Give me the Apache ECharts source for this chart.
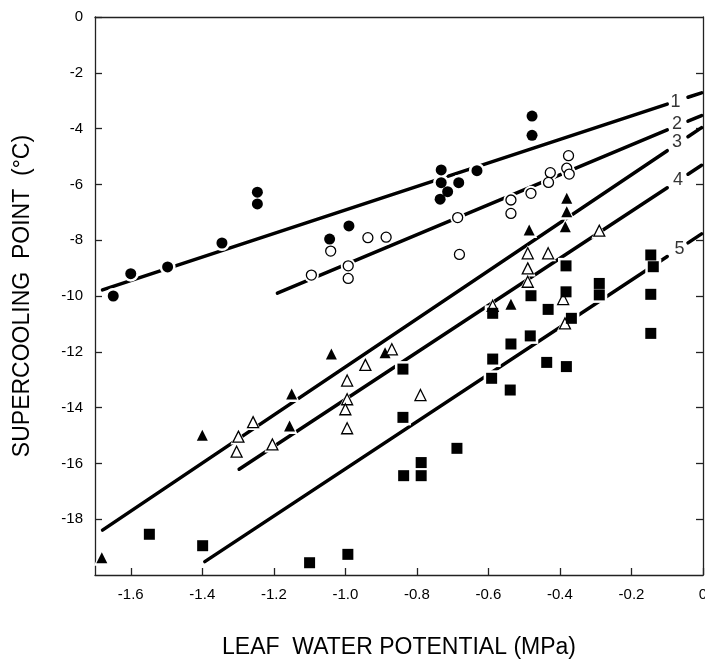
<!DOCTYPE html>
<html><head><meta charset="utf-8">
<script src="https://cdn.jsdelivr.net/npm/echarts@6/dist/echarts.min.js"></script>
<style>html,body{margin:0;padding:0;background:#fff}#c{width:705px;height:660px}</style>
</head><body><div id="c"></div>
<script>
// ---- data ----
const xTicks = [-1.6, -1.4, -1.2, -1.0, -0.8, -0.6, -0.4, -0.2, 0];
const yTicks = [0, -2, -4, -6, -8, -10, -12, -14, -16, -18];
const yTicksRight = [-2, -4, -6, -8, -10, -12, -14, -16, -18];

const filledCircles = [
  [-1.649, -10.0], [-1.600, -9.20], [-1.497, -8.96], [-1.345, -8.10],
  [-1.246, -6.28], [-1.246, -6.70], [-1.044, -7.96], [-0.990, -7.49],
  [-0.478, -3.55], [-0.478, -4.24], [-0.732, -5.48], [-0.632, -5.51],
  [-0.732, -5.94], [-0.683, -5.94], [-0.714, -6.26], [-0.735, -6.53]
];
const openCircles = [
  [-1.041, -8.39], [-1.095, -9.25], [-0.992, -8.92], [-0.992, -9.37],
  [-0.937, -7.91], [-0.886, -7.89], [-0.376, -4.97], [-0.381, -5.42],
  [-0.374, -5.63], [-0.427, -5.58], [-0.432, -5.93], [-0.481, -6.32],
  [-0.537, -6.56], [-0.537, -7.04], [-0.686, -7.19], [-0.681, -8.51]
];
const filledTriangles = [
  [-0.381, -6.50], [-0.381, -6.98], [-0.385, -7.52], [-0.486, -7.63],
  [-0.537, -10.30], [-1.039, -12.08], [-0.889, -12.03], [-1.150, -13.51],
  [-1.156, -14.66], [-1.400, -14.99], [-1.681, -19.38]
];
const openTriangles = [
  [-0.290, -7.66], [-0.490, -8.47], [-0.433, -8.47], [-0.490, -9.01],
  [-0.490, -9.49], [-0.391, -10.11], [-0.588, -10.35], [-0.386, -10.98],
  [-0.790, -13.55], [-0.870, -11.91], [-0.944, -12.47], [-0.995, -13.03],
  [-0.995, -13.70], [-1.000, -14.06], [-0.995, -14.74], [-1.258, -14.52],
  [-1.299, -15.04], [-1.304, -15.58], [-1.204, -15.32]
];
const filledSquares = [
  [-1.548, -18.54], [-1.399, -18.95], [-1.100, -19.56], [-0.993, -19.26],
  [-0.839, -12.62], [-0.839, -14.35], [-0.837, -16.44], [-0.788, -15.97],
  [-0.788, -16.44], [-0.688, -15.46], [-0.588, -10.62], [-0.588, -12.26],
  [-0.591, -12.95], [-0.537, -11.72], [-0.539, -13.37], [-0.481, -9.99],
  [-0.483, -11.43], [-0.433, -10.48], [-0.437, -12.38], [-0.383, -8.92],
  [-0.383, -9.85], [-0.368, -10.80], [-0.382, -12.53], [-0.290, -9.55],
  [-0.290, -9.96], [-0.146, -8.53], [-0.139, -8.95], [-0.146, -9.94],
  [-0.146, -11.34]
];

// regression lines: start point and value at x = 0
const lineNames  = ['1', '2', '3', '4', '5'];
const lineStartX = [-1.679, -1.190, -1.679, -1.297, -1.393];
const lineStartY = [-9.78, -9.90, -18.39, -16.21, -19.52];
const lineEndY   = [-2.70, -3.51, -3.93, -5.28, -7.74];
const labelX     = [-0.077, -0.073, -0.073, -0.070, -0.066];
const labelY     = [-3.04, -3.84, -4.47, -5.84, -8.32];

// ---- chart ----
const FONT = 'Liberation Sans';
const gapA = -0.100, gapB = -0.042;
function lineY(i, x) {
  return lineStartY[i] + (lineEndY[i] - lineStartY[i]) * (x - lineStartX[i]) / (0 - lineStartX[i]);
}
const series = [];
lineNames.forEach((n, i) => {
  const segStyle = { color: '#000', width: 3.5, cap: 'round' };
  series.push({
    type: 'line', z: 2, symbol: 'none', silent: true, animation: false,
    lineStyle: segStyle,
    data: [[lineStartX[i], lineY(i, lineStartX[i])], [gapA, lineY(i, gapA)]]
  });
  series.push({
    type: 'line', z: 2, symbol: 'none', silent: true, animation: false,
    lineStyle: segStyle,
    data: [[gapB, lineY(i, gapB)], [-0.004, lineY(i, -0.004)]]
  });
});
series.push({
  type: 'scatter', z: 5, symbolSize: 0, animation: false,
  data: labelX.map((x, i) => ({ value: [x, labelY[i]], name: lineNames[i] })),
  label: { show: true, position: 'inside', formatter: p => p.name, color: '#000',
           fontFamily: FONT, fontSize: 18 }
});
function markers(data, symbol, size, filled) {
  series.push({
    type: 'scatter', z: 3, symbol, symbolSize: size + 5, animation: false, silent: true,
    itemStyle: { color: '#fff', opacity: 1 }, data
  });
  series.push({
    type: 'scatter', z: 4, symbol, symbolSize: size, animation: false,
    itemStyle: filled ? { color: '#000', opacity: 1 }
                      : { color: '#fff', borderColor: '#000', borderWidth: 1.3, opacity: 1 },
    data
  });
}
markers(filledCircles, 'circle', 11, true);
markers(openCircles, 'circle', 10, false);
markers(filledTriangles, 'triangle', 11, true);
markers(openTriangles, 'triangle', 11, false);
markers(filledSquares, 'rect', 11, true);

const axisLine = { show: true, onZero: false, lineStyle: { color: '#222', width: 1.3 } };
const tickStyle = { color: '#222', width: 1.3 };
const lbl = { color: '#000', fontFamily: FONT, fontSize: 15 };
const option = {
  backgroundColor: '#fff',
  animation: false,
  grid: { left: 95, right: 2, top: 17, bottom: 85, containLabel: false, outerBoundsMode: 'none' },
  xAxis: [
    {
      type: 'value', min: -1.7, max: 0, position: 'bottom',
      axisLine,
      axisTick: { show: true, inside: true, length: 7, customValues: xTicks, lineStyle: tickStyle },
      axisLabel: Object.assign({ customValues: xTicks, margin: 12,
        formatter: v => (v === 0 ? '0' : v.toFixed(1)) }, lbl),
      splitLine: { show: false },
      name: 'LEAF  WATER POTENTIAL (MPa)', nameLocation: 'middle', nameGap: 61,
      nameTextStyle: { color: '#000', fontFamily: FONT, fontSize: 23 }
    },
    {
      type: 'value', min: -1.7, max: 0, position: 'top',
      axisLine, axisTick: { show: false }, axisLabel: { show: false }, splitLine: { show: false }
    }
  ],
  yAxis: [
    {
      type: 'value', min: -20, max: 0, position: 'left',
      axisLine,
      axisTick: { show: true, inside: true, length: 7, customValues: yTicks, lineStyle: tickStyle },
      axisLabel: Object.assign({ customValues: yTicks, margin: 12,
        formatter: v => String(v) }, lbl),
      splitLine: { show: false },
      name: 'SUPERCOOLING  POINT  (°C)', nameLocation: 'middle', nameGap: 61, nameRotate: 90,
      nameTextStyle: { color: '#000', fontFamily: FONT, fontSize: 23 }
    },
    {
      type: 'value', min: -20, max: 0, position: 'right',
      axisLine,
      axisTick: { show: true, inside: true, length: 7, customValues: yTicksRight, lineStyle: tickStyle },
      axisLabel: { show: false }, splitLine: { show: false }
    }
  ],
  series
};
const chart = echarts.init(document.getElementById('c'));
chart.setOption(option);
</script>
</body></html>
